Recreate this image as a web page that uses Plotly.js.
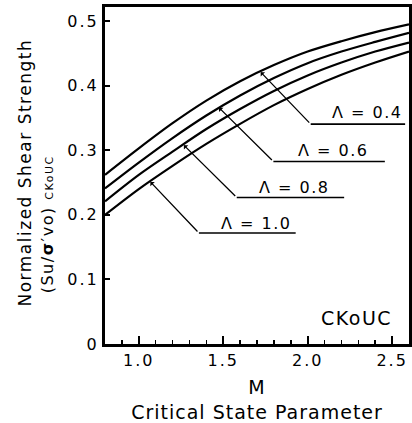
<!DOCTYPE html>
<html><head><meta charset="utf-8">
<script src="https://cdn.plot.ly/plotly-3.0.1.min.js"></script>
<style>html,body{margin:0;padding:0;background:#fff}#c{width:412px;height:423px}
.xtick text,.ytick text{letter-spacing:2px}
.annotation-text{letter-spacing:1.5px}
.xtitle{letter-spacing:1px}
</style>
</head><body><div id="c"></div>
<script>
// Data
const M = [0.8, 1.0, 1.2, 1.4, 1.6, 1.8, 2.0, 2.2, 2.4, 2.6];
const lam04 = [0.262, 0.303, 0.342, 0.377, 0.407, 0.432, 0.453, 0.469, 0.483, 0.495];
const lam06 = [0.241, 0.281, 0.319, 0.354, 0.385, 0.412, 0.435, 0.453, 0.468, 0.482];
const lam08 = [0.221, 0.262, 0.298, 0.333, 0.364, 0.392, 0.416, 0.436, 0.453, 0.467];
const lam10 = [0.200, 0.240, 0.276, 0.310, 0.341, 0.370, 0.395, 0.417, 0.436, 0.453];
const seriesNames = ["Λ = 0.4", "Λ = 0.6", "Λ = 0.8", "Λ = 1.0"];

const yTickVals = [0, 0.1, 0.2, 0.3, 0.4, 0.5];
const yTickText = ["0", "0.1", "0.2", "0.3", "0.4", "0.5"];
const xTickVals = [1.0, 1.5, 2.0, 2.5];
const xTickText = ["1.0", "1.5", "2.0", "2.5"];

const yTitle1 = "Normalized Shear Strength";
const yTitle2 = "(Su/<b>σ</b>′vo) <span style='font-size:11px'>CKoUC</span>";
const xTitle = "M<br>Critical State Parameter";
const panelLabel = "CKoUC";

// Label leader positions (data units): attach point, elbow, end of underline, text centre
const lblAttachX = [1.722, 1.475, 1.267, 1.069];
const lblAttachY = [0.421, 0.366, 0.308, 0.251];
const lblElbowX = [2.018, 1.797, 1.580, 1.356];
const lblElbowY = [0.3406, 0.2827, 0.227, 0.172];
const lblEndX = [2.577, 2.457, 2.216, 1.929];
const lblTextX = [2.353, 2.149, 1.918, 1.692];
const lblTextY = [0.358, 0.299, 0.2423, 0.186];

const font = "DejaVu Sans, Verdana, sans-serif";
const allY = [lam04, lam06, lam08, lam10];
const traces = allY.map((ys, i) => ({
  x: M, y: ys, type: "scatter", mode: "lines", name: seriesNames[i],
  line: {color: "#000", width: 2.2, shape: "spline", smoothing: 0.9},
  hoverinfo: "skip"
}));

const annotations = [];
const shapes = [];
for (let i = 0; i < seriesNames.length; i++) {
  annotations.push({
    x: lblAttachX[i], y: lblAttachY[i], xref: "x", yref: "y",
    ax: lblElbowX[i], ay: lblElbowY[i], axref: "x", ayref: "y",
    text: "", showarrow: true, arrowhead: 1, arrowsize: 0.8, arrowwidth: 1.3, arrowcolor: "#000"
  });
  shapes.push({type: "line", xref: "x", yref: "y",
    x0: lblElbowX[i], y0: lblElbowY[i], x1: lblEndX[i], y1: lblElbowY[i],
    line: {color: "#000", width: 1.6}});
  annotations.push({
    x: lblTextX[i], y: lblTextY[i], xref: "x", yref: "y",
    text: seriesNames[i], showarrow: false,
    font: {family: font, size: 16, color: "#000"}
  });
}
annotations.push({
  x: 2.51, y: 0.040, xref: "x", yref: "y", xanchor: "right",
  text: panelLabel, showarrow: false, font: {family: font, size: 19, color: "#000"}
});
// y-axis title, two lines
annotations.push({
  x: -0.263, y: 0.509, xref: "paper", yref: "paper", textangle: -90,
  xanchor: "center", yanchor: "middle",
  text: yTitle1, showarrow: false, font: {family: font, size: 17, color: "#000"}
});
annotations.push({
  x: -0.191, y: 0.355, xref: "paper", yref: "paper", textangle: -90,
  xanchor: "center", yanchor: "middle",
  text: yTitle2, showarrow: false, font: {family: font, size: 16, color: "#000"}
});

const layout = {
  width: 412, height: 423,
  margin: {l: 105, r: 3, t: 7, b: 79},
  paper_bgcolor: "#fff", plot_bgcolor: "#fff",
  showlegend: false,
  font: {family: font, color: "#000"},
  xaxis: {
    range: [0.8, 2.6], tickvals: xTickVals, ticktext: xTickText,
    ticks: "inside", ticklen: 8, tickwidth: 2, tickcolor: "#000",
    minor: {dtick: 0.1, ticks: "inside", ticklen: 4, tickwidth: 1.5, tickcolor: "#000"},
    showline: true, linewidth: 3, linecolor: "#000", mirror: true,
    showgrid: false, zeroline: false,
    tickfont: {family: font, size: 16, color: "#000"},
    title: {text: xTitle, standoff: 12,
            font: {family: font, size: 19, color: "#000"}}
  },
  yaxis: {
    range: [0, 0.522], tickvals: yTickVals, ticktext: yTickText,
    ticks: "inside", ticklen: 5, tickwidth: 2, tickcolor: "#000",
    showline: true, linewidth: 3, linecolor: "#000", mirror: true,
    showgrid: false, zeroline: false,
    tickfont: {family: font, size: 16, color: "#000"}
  },
  annotations: annotations,
  shapes: shapes
};
Plotly.newPlot("c", traces, layout, {staticPlot: true, displayModeBar: false});
</script>
</body></html>
